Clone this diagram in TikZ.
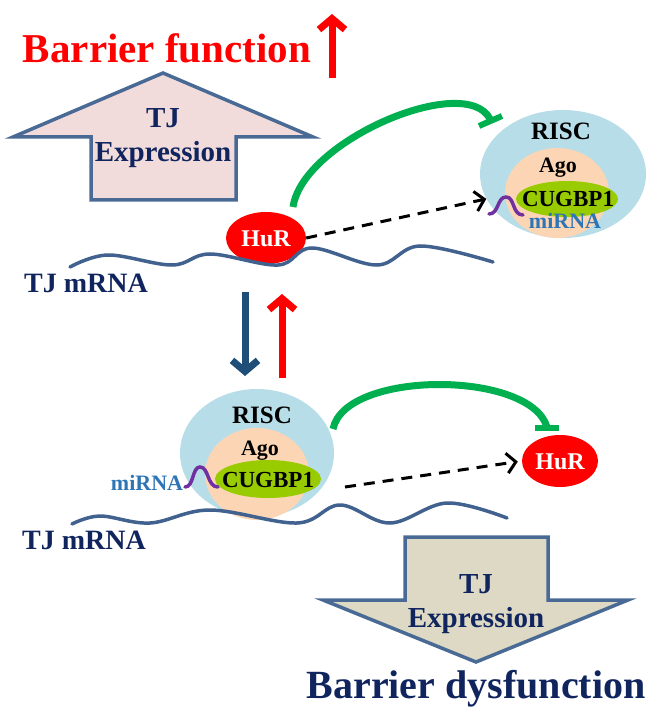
\documentclass[tikz,border=0pt]{standalone}
\usepackage{fontspec}
\setmainfont{Liberation Serif}
\usetikzlibrary{arrows.meta,shapes.geometric}
\definecolor{navy}{HTML}{10245E}
\definecolor{outl}{HTML}{4A6A96}
\definecolor{pinkfill}{HTML}{F2DCDB}
\definecolor{beigefill}{HTML}{DDD9C4}
\definecolor{riscblue}{HTML}{B7DEE8}
\definecolor{peach}{HTML}{FCD5B5}
\definecolor{cugreen}{HTML}{99CC00}
\definecolor{mirblue}{HTML}{2E75B6}
\definecolor{purp}{HTML}{7030A0}
\definecolor{inhgreen}{HTML}{00B050}
\definecolor{darkblue}{HTML}{1F4E79}
\definecolor{wavec}{HTML}{41628E}
\tikzset{
  fs/.style={font=\bfseries\fontsize{#1}{#1}\selectfont},
  bigarrow/.style={draw=outl, line width=3.5pt, line join=miter},
  blob/.style={ellipse, inner sep=0pt},
  wave/.style={draw=wavec, line width=3.5pt, line cap=round},
  mirna/.style={draw=purp, line width=3.5pt, line cap=round},
  inhib/.style={draw=inhgreen, line width=7pt},
  tbar/.style={draw=inhgreen, line width=6pt},
  dasharrow/.style={draw=black, line width=3pt, dash pattern=on 11pt off 8pt,
     -{Straight Barb[length=9pt,width=20pt]}},
  updown/.style={line width=7pt, -{Straight Barb[length=11pt,width=26pt]}},
  lbl/.style={anchor=base, inner sep=0pt}
}
\begin{document}
\begin{tikzpicture}[x=1pt,y=-1pt]
\useasboundingbox (0,0) rectangle (660,719);

% ---- top title
\node[lbl, fs=41, text=red] (bf) at (167,63) {Barrier function};
\coordinate (ra1) at (332,78);
\coordinate (ra2) at (332,14);
\draw[updown, red] (ra1) -- (ra2);

% ---- top TJ expression arrow
\draw[bigarrow, fill=pinkfill] (91,200) -- (91,137) -- (13,137) -- (163,73) -- (313,137) -- (236,137) -- (236,200) -- cycle;
\node[lbl, fs=29, text=navy] (tj1) at (163,128) {TJ};
\node[lbl, fs=29, text=navy] (ex1) at (163,162) {Expression};

% ---- top RISC
\node[blob, fill=riscblue, minimum width=166pt, minimum height=128pt] (risc1) at (563,174) {};
\node[blob, fill=peach, minimum width=104pt, minimum height=90pt] (ago1) at (557,193) {};
\node[blob, fill=cugreen, minimum width=102pt, minimum height=36pt] (cug1) at (567,199) {};
\node[lbl, fs=25, text=black] (risct1) at (561,140) {RISC};
\node[lbl, fs=22, text=black] (agot1) at (558,173) {Ago};
\node[lbl, fs=23, text=black] (cugt1) at (568,207) {CUGBP1};
\node[lbl, fs=22, text=mirblue] (mir1) at (565,229) {miRNA};
\draw[mirna] (489,214) .. controls (499,214) and (497,197) .. (506,197) .. controls (515,197) and (512,215) .. (523,215);

% ---- top HuR and mRNA
\node[blob, fill=red, minimum width=80pt, minimum height=52pt] (hur1) at (266,238) {};
\node[lbl, fs=24, text=white] (hurt1) at (266,246) {HuR};
\draw[wave] plot[smooth, tension=0.6] coordinates {(70,267) (108,255) (172,265) (210,254) (278,265) (312,248) (377,265) (420,246) (493,262)};
\node[lbl, fs=28, text=navy] (mr1) at (86,292) {TJ mRNA};

\coordinate (g1s) at (293,207);
\coordinate (g1e) at (490,119);
\coordinate (b1a) at (479,126);
\coordinate (b1b) at (502,116);
\draw[inhib] (g1s) .. controls (303,140) and (466,72) .. (g1e);
\draw[tbar] (b1a) -- (b1b);
\draw[dasharrow] (hur1.east) -- (risc1.198);

% ---- middle arrows
\coordinate (ba1) at (245,292);
\coordinate (ba2) at (245,376);
\draw[updown, darkblue] (ba1) -- (ba2);
\coordinate (rb1) at (282,378);
\coordinate (rb2) at (282,294);
\draw[updown, red] (rb1) -- (rb2);

% ---- bottom RISC
\node[blob, fill=riscblue, minimum width=154pt, minimum height=128pt] (risc2) at (257,453) {};
\node[blob, fill=peach, minimum width=104pt, minimum height=92pt] (ago2) at (257,474) {};
\node[blob, fill=cugreen, minimum width=106pt, minimum height=38pt] (cug2) at (268,479) {};
\node[lbl, fs=25, text=black] (risct2) at (262,423) {RISC};
\node[lbl, fs=22, text=black] (agot2) at (260,455) {Ago};
\node[lbl, fs=23, text=black] (cugt2) at (268,487) {CUGBP1};
\node[lbl, fs=22, text=mirblue] (mir2) at (147,490) {miRNA};
\draw[mirna] (185,487) .. controls (194,487) and (192,467) .. (200,467) .. controls (209,467) and (207,487) .. (218,487);

\draw[wave] plot[smooth, tension=0.6] coordinates {(72,524) (100,516) (150,523) (210,510) (297,523) (340,505) (390,523) (447,503) (507,518)};
\node[lbl, fs=28, text=navy] (mr2) at (84,549) {TJ mRNA};

% ---- bottom HuR
\node[blob, fill=red, minimum width=76pt, minimum height=52pt] (hur2) at (560,461) {};
\node[lbl, fs=24, text=white] (hurt2) at (560,469) {HuR};

\coordinate (g2s) at (333,429);
\coordinate (g2e) at (547,427);
\coordinate (b2a) at (535,428);
\coordinate (b2b) at (559,428);
\draw[inhib] (g2s) .. controls (345,370) and (530,370) .. (g2e);
\draw[tbar] (b2a) -- (b2b);
\coordinate (d2s) at (345,487);
\draw[dasharrow, shorten >=4pt] (d2s) -- (hur2.west);

% ---- bottom TJ expression arrow
\draw[bigarrow, fill=beigefill] (405,537) -- (548,537) -- (548,600) -- (628,600) -- (476,662) -- (323,600) -- (405,600) -- cycle;
\node[lbl, fs=29, text=navy] (tj2) at (476,593) {TJ};
\node[lbl, fs=29, text=navy] (ex2) at (476,627) {Expression};
\node[lbl, fs=40, text=navy] (bd) at (476,698) {Barrier dysfunction};
\end{tikzpicture}
\end{document}
